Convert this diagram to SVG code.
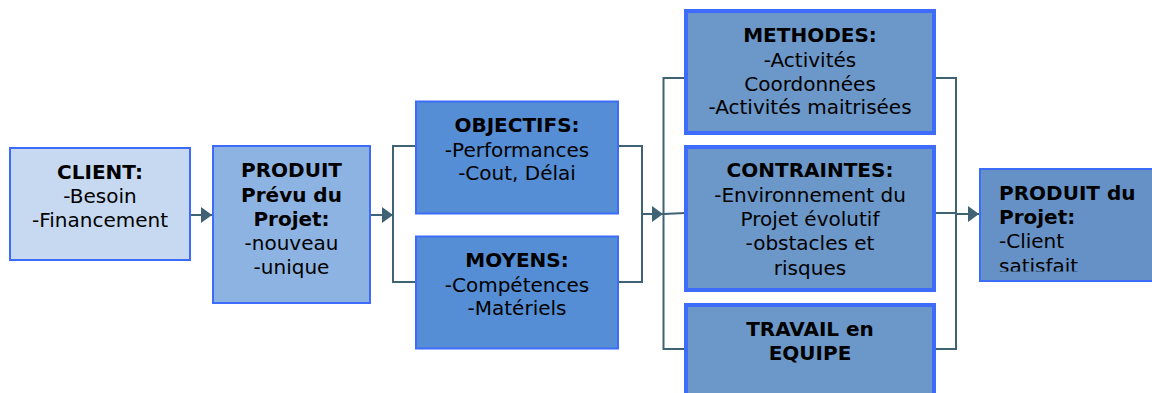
<svg xmlns="http://www.w3.org/2000/svg" width="1152" height="393" viewBox="0 0 1152 393">
  <defs>
    <style>
      .box { stroke: #3d6cfb; stroke-width: 2; }
      .thick { stroke-width: 4; }
      .c1 { fill: #c6d9f1; }
      .c2 { fill: #8db3e2; }
      .c3 { fill: #558ed5; }
      .c4 { fill: #6b97c9; }
      .c5 { fill: #6691c6; }
      text { font-family: "DejaVu Sans", Verdana, sans-serif; font-size: 20px; fill: #000; }
      .ctr { text-anchor: middle; }
      .h { font-weight: bold; }
      .wire { fill: none; stroke: #3f6275; stroke-width: 2; }
    </style>
    <marker id="arrow" markerUnits="userSpaceOnUse" markerWidth="11" markerHeight="16" refX="11" refY="8" orient="auto">
      <path d="M0,0 L11,8 L0,16 Z" fill="#3f6275"/>
    </marker>
    <clipPath id="clip-out">
      <rect x="980" y="169" width="180" height="102.5"/>
    </clipPath>
  </defs>

  <g id="connectors">
    <line class="wire" x1="191" y1="215" x2="212" y2="215" marker-end="url(#arrow)"/>
    <line class="wire" x1="371" y1="215" x2="393" y2="215" marker-end="url(#arrow)"/>
    <path class="wire" d="M415,146 H393 V282 H415"/>
    <path class="wire" d="M619,146 H642 V282 H619"/>
    <line class="wire" x1="642" y1="214" x2="663" y2="214" marker-end="url(#arrow)"/>
    <path class="wire" d="M685,78 H663.5 V349 H685"/>
    <path class="wire" d="M663.5,214 L685,213"/>
    <path class="wire" d="M935,78 H956 V349 H935"/>
    <path class="wire" d="M935,213 H956"/>
    <line class="wire" x1="956" y1="214" x2="979" y2="214" marker-end="url(#arrow)"/>
  </g>

  <g id="client">
    <rect class="box c1" x="10" y="148" width="180" height="112"/>
    <text class="ctr" x="100" y="179"><tspan class="h">CLIENT:</tspan><tspan x="100" y="203">-Besoin</tspan><tspan x="100" y="227">-Financement</tspan></text>
  </g>

  <g id="produit-prevu">
    <rect class="box c2" x="213" y="146" width="157" height="157"/>
    <text class="ctr h" x="291.5" y="177">PRODUIT<tspan x="291.5" y="201.5">Prévu du</tspan><tspan x="291.5" y="225.5">Projet:</tspan></text>
    <text class="ctr" x="291.5" y="249.5">-nouveau<tspan x="291.5" y="273.5">-unique</tspan></text>
  </g>

  <g id="objectifs">
    <rect class="box c3" x="416" y="101.5" width="202" height="112"/>
    <text class="ctr h" x="517" y="132">OBJECTIFS:</text>
    <text class="ctr" x="517" y="156.5">-Performances<tspan x="517" y="180">-Cout, Délai</tspan></text>
  </g>

  <g id="moyens">
    <rect class="box c3" x="416" y="236.5" width="202" height="112"/>
    <text class="ctr h" x="517" y="266.5">MOYENS:</text>
    <text class="ctr" x="517" y="291.5">-Compétences<tspan x="517" y="315">-Matériels</tspan></text>
  </g>

  <g id="methodes">
    <rect class="box thick c4" x="686" y="11" width="248" height="122"/>
    <text class="ctr h" x="810" y="41.5">METHODES:</text>
    <text class="ctr" x="810" y="66.5">-Activités<tspan x="810" y="90.5">Coordonnées</tspan><tspan x="810" y="113.5">-Activités maitrisées</tspan></text>
  </g>

  <g id="contraintes">
    <rect class="box thick c4" x="686" y="147" width="248" height="143"/>
    <text class="ctr h" x="810" y="177">CONTRAINTES:</text>
    <text class="ctr" x="810" y="201.5">-Environnement du<tspan x="810" y="226">Projet évolutif</tspan><tspan x="810" y="250">-obstacles et</tspan><tspan x="810" y="275">risques</tspan></text>
  </g>

  <g id="travail">
    <rect class="box thick c4" x="686" y="305" width="248" height="100"/>
    <text class="ctr h" x="810" y="336">TRAVAIL en<tspan x="810" y="360">EQUIPE</tspan></text>
  </g>

  <g id="produit-final">
    <rect class="box c5" x="980" y="169" width="180" height="112"/>
    <g clip-path="url(#clip-out)">
      <text class="h" x="999" y="200">PRODUIT du<tspan x="999" y="223.5">Projet:</tspan></text>
      <text x="999" y="247.5">-Client<tspan x="999" y="273">satisfait</tspan></text>
    </g>
  </g>
</svg>
